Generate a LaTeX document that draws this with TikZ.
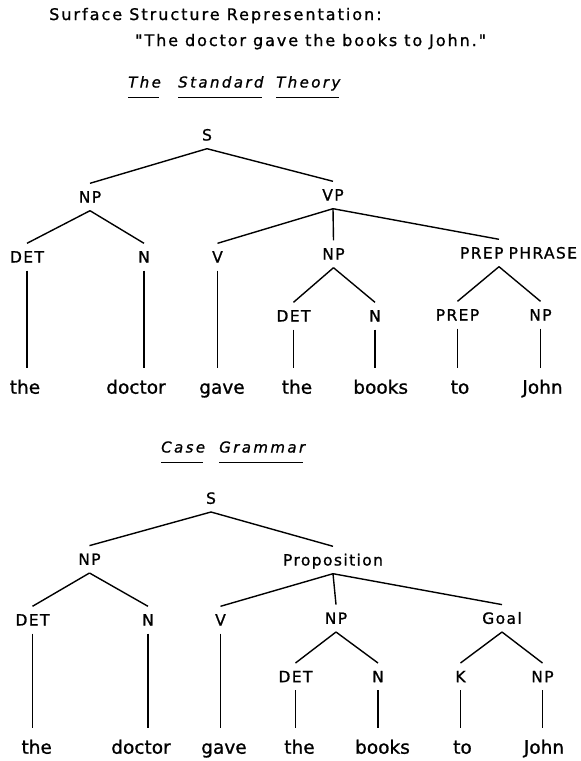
\documentclass[tikz,border=0pt]{standalone}
\usepackage{fontspec}
\setmainfont{DejaVu Sans}
\newfontfamily\titlefontA{DejaVu Sans}[LetterSpace=12.5,FakeBold=1]
\newfontfamily\titlefontB{DejaVu Sans}[LetterSpace=12,FakeBold=1]
\newfontfamily\headfont{DejaVu Sans Oblique}[LetterSpace=16,FakeBold=1]
\newfontfamily\labfont{DejaVu Sans}[LetterSpace=9,FakeBold=1]
\newfontfamily\wordfont{DejaVu Sans}[FakeBold=1]
\begin{document}
\begin{tikzpicture}[x=1pt,y=-1pt,
  ttlA/.style={font=\titlefontA\fontsize{16}{16}\selectfont, inner sep=0pt, text height=12pt, text depth=0pt, anchor=west},
  ttlB/.style={font=\titlefontB\fontsize{16}{16}\selectfont, inner sep=0pt, text height=12pt, text depth=0pt, anchor=west},
  head/.style={font=\headfont\fontsize{15}{15}\selectfont, inner sep=0pt, text height=11pt, text depth=0pt, anchor=west},
  lab/.style={font=\labfont\fontsize{15.5}{15.5}\selectfont, inner sep=0pt, text height=11pt, text depth=0pt, minimum height=27pt},
  wrd/.style={font=\wordfont\fontsize{18.5}{18.5}\selectfont, inner sep=0pt, text height=14pt, text depth=0pt, minimum height=38pt},
  edge/.style={line width=1.4pt},
  uline/.style={line width=1.4pt}]
\useasboundingbox (0,0) rectangle (581,761);
\fill[white] (0,0) rectangle (581,761);

% headings
\node[ttlA] (t1) at (49,14) {Surface Structure Representation:};
\node[ttlB] (t2) at (135,40) {"The doctor gave the books to John."};
\node[head] (h1) at (128,82) {The};
\node[head] (h2) at (178,82) {Standard};
\node[head] (h3) at (276,82) {Theory};
\foreach \h in {h1,h2,h3}
  \draw[uline] ([yshift=-10pt]\h.south west) -- ([yshift=-10pt,xshift=-2pt]\h.south east);

% ---- Tree 1 ----
\node[lab] (aS) at (207,135) {S};
\node[lab] (aNP) at (90,197) {NP};
\node[lab] (aVP) at (333,195) {VP};
\node[lab] (aDET) at (27,257) {DET};
\node[lab] (aN) at (144,257) {N};
\node[lab] (aV) at (217.5,257) {V};
\node[lab] (aNPb) at (333.5,254) {NP};
\node[lab, text width=156pt, align=right] (aPP) at (499,253) {PREP PHRASE};
\node[lab] (aDETb) at (293.5,316) {DET};
\node[lab] (aNb) at (375,316) {N};
\node[lab] (aPREP) at (457.5,315) {PREP};
\node[lab] (aNPc) at (540.5,315) {NP};
\node[wrd] (aw1) at (25,386.7) {the};
\node[wrd] (aw2) at (136,386.7) {doctor};
\node[wrd] (aw3) at (222,386.7) {gave};
\node[wrd] (aw4) at (297,386.7) {the};
\node[wrd] (aw5) at (380.7,386.7) {books};
\node[wrd] (aw6) at (460,386.7) {to};
\node[wrd] (aw7) at (542.5,386.7) {John};

\draw[edge] (aS.south) -- (aNP.north);
\draw[edge] (aS.south) -- (aVP.north);
\draw[edge] (aNP.south) -- (aDET.north);
\draw[edge] (aNP.south) -- (aN.north);
\draw[edge] (aVP.south) -- (aV.north);
\draw[edge] (aVP.south) -- (aNPb.north);
\draw[edge] (aVP.south) -- (aPP.north);
\draw[edge] (aNPb.south) -- (aDETb.north);
\draw[edge] (aNPb.south) -- (aNb.north);
\draw[edge] (aPP.south) -- (aPREP.north);
\draw[edge] (aPP.south) -- (aNPc.north);
\draw[edge] (aDET.south) -- (aDET.south |- aw1.north);
\draw[edge] (aN.south) -- (aN.south |- aw2.north);
\draw[edge] (aV.south) -- (aV.south |- aw3.north);
\draw[edge] (aDETb.south) -- (aDETb.south |- aw4.north);
\draw[edge] (aNb.south) -- (aNb.south |- aw5.north);
\draw[edge] (aPREP.south) -- (aPREP.south |- aw6.north);
\draw[edge] (aNPc.south) -- (aNPc.south |- aw7.north);

% ---- Case Grammar heading ----
\node[head] (h4) at (161,447) {Case};
\node[head] (h5) at (219,447) {Grammar};
\foreach \h in {h4,h5}
  \draw[uline] ([yshift=-10pt]\h.south west) -- ([yshift=-10pt,xshift=-2pt]\h.south east);

% ---- Tree 2 ----
\node[lab] (bS) at (211,498.3) {S};
\node[lab] (bNP) at (89.5,559.3) {NP};
\node[lab] (bPr) at (333,560) {Proposition};
\node[lab] (bDET) at (32.5,620) {DET};
\node[lab] (bN) at (148,620) {N};
\node[lab] (bV) at (220.5,620) {V};
\node[lab] (bNPb) at (336,618.3) {NP};
\node[lab] (bG) at (502,618.3) {Goal};
\node[lab] (bDETb) at (295.5,676.7) {DET};
\node[lab] (bNb) at (378,676.7) {N};
\node[lab] (bK) at (460.5,676.7) {K};
\node[lab] (bNPc) at (542.5,676.7) {NP};
\node[wrd] (bw1) at (36.7,746.7) {the};
\node[wrd] (bw2) at (141,746.7) {doctor};
\node[wrd] (bw3) at (224,746.7) {gave};
\node[wrd] (bw4) at (299.5,746.7) {the};
\node[wrd] (bw5) at (382.5,746.7) {books};
\node[wrd] (bw6) at (462.5,746.7) {to};
\node[wrd] (bw7) at (544,746.7) {John};

\draw[edge] (bS.south) -- (bNP.north);
\draw[edge] (bS.south) -- (bPr.north);
\draw[edge] (bNP.south) -- (bDET.north);
\draw[edge] (bNP.south) -- (bN.north);
\draw[edge] (bPr.south) -- (bV.north);
\draw[edge] (bPr.south) -- (bNPb.north);
\draw[edge] (bPr.south) -- (bG.north);
\draw[edge] (bNPb.south) -- (bDETb.north);
\draw[edge] (bNPb.south) -- (bNb.north);
\draw[edge] (bG.south) -- (bK.north);
\draw[edge] (bG.south) -- (bNPc.north);
\draw[edge] (bDET.south) -- (bDET.south |- bw1.north);
\draw[edge] (bN.south) -- (bN.south |- bw2.north);
\draw[edge] (bV.south) -- (bV.south |- bw3.north);
\draw[edge] (bDETb.south) -- (bDETb.south |- bw4.north);
\draw[edge] (bNb.south) -- (bNb.south |- bw5.north);
\draw[edge] (bK.south) -- (bK.south |- bw6.north);
\draw[edge] (bNPc.south) -- (bNPc.south |- bw7.north);
\end{tikzpicture}
\end{document}
